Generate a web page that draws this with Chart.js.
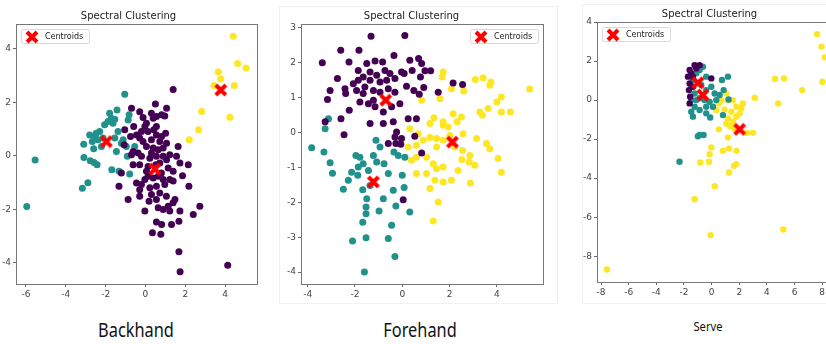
<!DOCTYPE html>
<html>
<head>
<meta charset="utf-8">
<script src="https://cdn.jsdelivr.net/npm/chart.js@4.4.1/dist/chart.umd.min.js"></script>
<style>
html,body{margin:0;padding:0;background:#fff;width:826px;height:344px;overflow:hidden;position:relative}
.panel{position:absolute;top:0;height:300px}
.sheet{position:absolute;border:1px solid #f1f1f1;background:#fff}
.cap{position:absolute;font-family:"Noto Sans",sans-serif;color:#111;transform:translateX(-50%) scaleX(0.86);white-space:nowrap;line-height:1}
</style>
</head>
<body>
<div class="sheet" style="left:279px;top:6px;width:277px;height:296px"></div>
<div class="sheet" style="left:582px;top:4px;width:260px;height:298px"></div>
<div class="panel" style="left:0;width:268px"><canvas id="c1"></canvas></div>
<div class="panel" style="left:280px;width:275px"><canvas id="c2"></canvas></div>
<div class="panel" style="left:583px;width:263px"><canvas id="c3"></canvas></div>
<div class="cap" style="left:136px;top:321px;font-size:19px">Backhand</div>
<div class="cap" style="left:420px;top:321px;font-size:19px">Forehand</div>
<div class="cap" style="left:708px;top:320px;font-size:13px">Serve</div>
<script>
// cluster colours (viridis 0 / 0.5 / 1)
const PURPLE = '#440154', TEAL = '#21918c', YELLOW = '#fde725';

// ---- Backhand ----
const backPurple = [[1.39,2.48],[0.50,1.94],[-0.70,1.78],[-0.29,1.65],[0.30,1.59],[1.06,1.78],[0.81,1.53],[0.97,1.49],
  [0.55,1.47],[0.39,1.40],[-0.12,1.43],[0.05,1.22],[-0.03,1.09],[-0.20,0.91],[-0.59,1.09],[-1.04,0.97],[-0.75,0.72],
  [-0.45,0.78],[-0.29,0.66],[-1.07,0.41],[0.42,0.97],[0.55,0.78],[0.81,0.72],[1.01,0.84],[0.30,0.60],[0.72,0.53],
  [1.06,0.47],[0.05,0.35],[0.39,0.29],[0.64,0.22],[0.89,0.29],[1.64,0.35],[-0.62,0.16],[-0.37,0.10],[-0.70,0.04],
  [-0.20,-0.02],[0.22,-0.09],[0.55,-0.02],[0.89,-0.02],[1.22,0.04],[1.56,-0.02],[-0.62,-0.34],[-0.29,-0.34],
  [0.13,-0.40],[0.52,-0.34],[0.72,-0.27],[1.14,-0.46],[1.39,-0.58],[1.73,-0.27],[2.15,-0.34],[1.86,-0.75],
  [-1.21,-0.65],[-1.33,-1.14],[-0.45,-1.02],[-0.20,-1.08],[-0.03,-0.89],[0.13,-0.77],[0.39,-0.83],[0.64,-0.77],
  [0.89,-0.89],[1.22,-0.89],[0.97,-1.08],[0.55,-1.14],[0.22,-1.20],[-0.29,-1.27],[2.18,-1.14],[-0.87,-1.64],
  [-0.29,-1.52],[0.18,-1.70],[0.55,-1.64],[0.72,-1.39],[-0.03,-2.07],[0.64,-1.95],[0.89,-2.01],[1.14,-1.89],
  [1.39,-1.76],[1.22,-2.07],[1.48,-1.64],[1.73,-2.07],[2.40,-2.20],[2.73,-1.89],[0.55,-2.48],[0.81,-2.57],
  [1.31,-2.57],[0.35,-2.88],[0.77,-2.94],[1.68,-2.45],[1.68,-3.59],[1.74,-4.34],[4.13,-4.10],[0.30,0.10],
  [1.06,-0.15],[0.05,-0.58],[0.80,-0.65],[0.30,-1.45],[1.05,-1.52],[1.39,-0.95],[-0.12,0.53],[0.13,0.91],[0.55,1.09]];
const backTeal = [[-1.04,2.30],[-1.43,1.71],[-1.71,1.40],[-1.88,1.28],[-1.54,1.37],[-2.05,1.16],[-1.80,1.59],
  [-0.82,1.53],[-0.87,1.34],[-2.30,0.91],[-2.47,0.84],[-2.55,0.72],[-2.80,0.78],[-2.38,0.60],[-2.13,0.66],
  [-2.67,0.53],[-3.10,0.43],[-2.60,0.26],[-2.21,0.35],[-1.46,0.16],[-0.96,0.35],[-1.12,0.60],[-1.21,0.47],
  [-1.54,0.66],[-0.91,-0.02],[-0.54,0.35],[-3.09,-0.07],[-2.77,-0.19],[-2.58,-0.25],[-2.43,-0.34],[-1.69,-0.52],
  [-1.33,-0.58],[-0.79,-0.68],[-2.89,-1.01],[-3.17,-1.22],[-5.54,-0.16],[-5.96,-1.90],[-1.63,1.22],[-1.38,0.91]];
const backYellow = [[4.41,4.47],[4.63,3.45],[5.05,3.28],[3.66,3.14],[3.78,2.87],[3.44,2.63],[4.46,2.63],
  [4.24,1.44],[2.82,1.66],[2.67,0.97],[2.20,0.60]];
const backCentroids = [[0.47,-0.50],[-1.96,0.53],[3.78,2.46]];

// ---- Forehand ----
const foreTeal = [[-3.83,-0.44],[-3.31,-0.56],[-3.26,0.10],[-3.12,0.39],[-3.05,-0.87],[-2.95,-1.17],[-2.49,-1.63],
  [-2.28,-1.37],[-2.14,-1.14],[-1.96,-0.66],[-1.86,-0.99],[-1.65,-0.90],[-1.43,-1.09],[-1.22,-0.66],[-1.08,-0.85],
  [-1.11,-0.23],[-0.94,-0.42],[-0.77,-0.90],[-0.59,-1.18],[-0.35,-0.56],[-0.38,-1.66],[-0.80,-1.90],[-1.36,-1.52],
  [-1.67,-1.64],[-1.50,-1.90],[-1.53,-2.14],[-1.53,-2.33],[-1.67,-2.57],[-2.10,-3.11],[-1.53,-3.02],[-0.98,-2.25],
  [-0.27,-2.11],[-0.45,-2.66],[-0.59,-3.04],[-0.31,-3.55],[-1.60,-4.00],[0.32,-2.28],[0.00,-1.23],[0.08,-1.58],
  [-0.17,-0.66],[0.11,-0.71],[-1.88,-1.23],[-1.79,-0.71]];
const forePurple = [[-1.32,2.75],[0.11,2.77],[-2.60,2.35],[-1.83,2.35],[-3.38,1.99],[-2.25,2.01],[-1.15,2.04],
  [-0.83,2.01],[-0.35,2.20],[-1.50,1.97],[0.32,2.06],[0.69,2.11],[0.82,1.97],[-0.03,1.73],[0.08,1.68],[0.42,1.77],
  [0.96,1.76],[1.20,1.76],[0.77,1.58],[-1.86,1.77],[-1.65,1.58],[-1.36,1.73],[-1.08,1.63],[-0.73,1.77],[-0.52,1.68],
  [-0.31,1.54],[-0.66,1.49],[-0.94,1.44],[-1.36,1.49],[-1.86,1.49],[-2.07,1.39],[-2.42,1.25],[-2.74,1.54],
  [-3.05,1.20],[-3.16,0.94],[-2.39,1.11],[-1.93,1.20],[-1.58,1.30],[-1.22,1.20],[-0.94,1.15],[-0.59,1.25],
  [-0.31,1.15],[0.18,1.32],[0.49,1.20],[0.72,1.09],[0.91,1.28],[1.52,1.15],[2.15,1.41],[2.55,1.37],[-2.24,0.63],
  [-2.59,0.39],[-3.26,0.30],[-1.79,0.87],[-1.43,0.82],[-1.15,0.73],[-0.80,0.58],[-0.45,0.73],[-0.10,0.82],
  [-1.36,0.25],[-0.80,0.25],[-0.38,0.30],[0.25,0.39],[0.60,0.39],[-2.46,-0.07],[-0.24,0.01],[-0.31,-0.13],
  [-0.03,-0.18],[-0.59,-0.32],[-0.27,-0.32],[-0.06,-0.34],[0.53,-0.11],[0.82,-0.59],[0.04,-1.93],[-1.22,0.92],
  [-1.65,1.11]];
const foreYellow = [[1.73,1.73],[1.69,1.58],[1.59,0.96],[2.08,1.25],[2.60,1.18],[3.09,1.51],[3.42,1.56],[3.75,1.44],
  [3.70,1.35],[4.19,1.01],[4.00,0.87],[5.39,1.24],[4.57,0.58],[4.19,0.58],[3.63,0.68],[3.28,0.58],[3.39,0.49],
  [2.50,0.44],[2.15,0.53],[2.32,0.30],[1.73,0.30],[1.73,0.20],[1.34,0.42],[1.17,0.25],[0.82,0.92],[0.32,0.10],
  [0.67,-0.04],[1.17,-0.15],[1.45,-0.42],[1.73,-0.23],[2.22,-0.42],[2.55,-0.52],[2.86,-0.66],[2.52,-0.78],
  [2.83,-0.85],[3.07,-0.94],[3.56,-0.32],[3.70,-0.47],[4.05,-0.75],[4.19,-1.14],[2.88,-1.45],[2.36,-1.09],
  [2.08,-1.37],[1.73,-1.42],[1.73,-0.99],[1.45,-1.04],[1.31,-0.90],[1.03,-0.71],[0.60,-0.71],[0.39,-0.80],
  [0.60,-1.18],[1.03,-1.18],[1.38,-1.37],[1.17,-1.61],[1.52,-1.99],[1.31,-2.54],[0.25,-0.42],[0.60,-0.37],
  [0.89,-0.23],[2.01,-0.09],[1.45,-0.18],[1.94,0.15],[2.57,-0.04],[3.14,-0.18]];
const foreCentroids = [[-0.70,0.92],[-1.22,-1.42],[2.12,-0.28]];

// ---- Serve ----
const serveYellow = [[7.63,3.38],[7.95,2.74],[8.19,2.19],[8.02,0.94],[6.55,0.51],[4.59,1.08],[5.24,1.11],
  [4.81,-0.17],[3.12,0.12],[3.00,-1.68],[2.56,-1.68],[0.53,-1.50],[1.18,-1.91],[1.26,-2.48],[0.82,-2.60],
  [1.81,-2.60],[-0.02,-2.43],[-0.14,-2.77],[-0.19,-3.16],[-0.82,-3.20],[1.62,-3.37],[1.79,-3.28],[1.26,-3.71],
  [0.22,-4.41],[-1.23,-5.08],[-0.07,-6.92],[5.19,-6.63],[-7.56,-8.68],[1.06,0.34],[1.55,0.00],[1.18,0.00],
  [1.79,-0.34],[2.15,-0.43],[2.27,-0.17],[2.03,-0.68],[1.43,-0.60],[0.94,-0.48],[1.18,-0.94],[1.55,-1.11],
  [1.79,-0.85],[1.06,-1.20],[1.35,-1.33],[1.67,-1.45],[0.34,-0.51],[0.70,0.00],[0.53,-0.17]];
const serveTeal = [[-2.32,-3.16],[-0.87,-1.79],[-0.58,-1.79],[-0.99,-1.85],[-1.35,-0.85],[-0.10,-0.89],[0.82,-0.77],
  [1.23,0.03],[0.75,1.03],[1.18,1.20],[0.87,0.51],[0.58,0.26],[0.22,0.34],[-0.39,1.20],[-0.63,1.71],[-0.87,1.54],
  [-1.11,1.37],[-1.35,1.03],[-1.47,0.68],[-1.23,0.34],[-0.87,0.09],[-0.51,0.00],[-0.14,-0.09],[0.10,-0.34],
  [-0.39,-0.34],[-0.87,-0.51],[-1.23,-0.34],[-1.47,-0.60],[-0.39,0.51],[-0.02,0.68],[0.34,0.00],[-0.75,0.77],
  [-1.11,0.00],[-1.47,0.00],[-0.39,-0.68]];
const servePurple = [[-1.23,1.79],[-1.59,1.54],[-1.71,1.20],[-1.47,1.37],[-1.11,1.62],[-0.87,1.79],[-1.59,0.85],
  [-1.64,0.51],[-1.55,0.17],[-1.59,-0.17],[-0.02,1.11],[-1.35,1.20],[-1.35,0.68]];
const serveCentroids = [[-0.99,0.89],[-0.63,0.26],[2.03,-1.50]];

// axis ranges / ticks
const backX = [-6,-4,-2,0,2,4], backY = [-4,-2,0,2,4];
const foreX = [-4,-2,0,2,4], foreY = [-4,-3,-2,-1,0,1,2,3];
const serveX = [-8,-6,-4,-2,0,2,4,6,8], serveY = [-8,-6,-4,-2,0,2,4];

const toXY = a => a.map(p => ({x:p[0], y:p[1]}));

// red filled X marker (matplotlib 'X')
const xMark = document.createElement('canvas');
xMark.width = 14; xMark.height = 14;
(function(){
  const g = xMark.getContext('2d');
  g.strokeStyle = '#ff0000'; g.lineWidth = 4; g.lineCap = 'butt';
  g.beginPath(); g.moveTo(2,2); g.lineTo(12,12); g.moveTo(12,2); g.lineTo(2,12); g.stroke();
})();

// box frame + inset legend, like matplotlib
const framePlugin = {
  id:'frameLegend',
  afterDraw(chart, args, opts){
    const {ctx, chartArea:a} = chart;
    ctx.save();
    ctx.strokeStyle = '#777'; ctx.lineWidth = 1;
    ctx.strokeRect(Math.round(a.left)+0.5, Math.round(a.top)+0.5, Math.round(a.right-a.left), Math.round(a.bottom-a.top));
    const w = 68, h = 14;
    const lx = opts.side === 'right' ? a.right - 5 - w : a.left + 5;
    const ly = a.top + 5;
    ctx.fillStyle = 'rgba(255,255,255,0.85)';
    ctx.strokeStyle = '#d8d8d8';
    ctx.beginPath(); ctx.roundRect(lx+0.5, ly+0.5, w, h, 2); ctx.fill(); ctx.stroke();
    ctx.drawImage(xMark, lx+4, ly+1);
    ctx.fillStyle = '#222'; ctx.font = '8px "DejaVu Sans"'; ctx.textBaseline = 'middle';
    ctx.fillText('Centroids', lx+24, ly+h/2+1);
    ctx.restore();
  }
};

function axis(min, max, vals, fit){
  return {
    type:'linear', min, max,
    afterBuildTicks: s => { s.ticks = vals.map(v => ({value:v})); },
    afterFit: fit,
    border:{display:false},
    grid:{drawOnChartArea:false, drawTicks:true, tickLength:3, color:'#666'},
    ticks:{color:'#444', font:{family:'DejaVu Sans', size:9}, padding:2, maxRotation:0, autoSkip:false}
  };
}

function scatter(id, sets, o){
  const R = o.r;
  return new Chart(document.getElementById(id), {
    type:'scatter',
    data:{datasets:[
      {label:'Centroids', data:toXY(sets.cent), pointStyle:xMark, pointRadius:7, order:0},
      {label:'c0', data:toXY(sets.purple), backgroundColor:PURPLE, borderWidth:0, pointRadius:R, order:1},
      {label:'c1', data:toXY(sets.teal), backgroundColor:TEAL, borderWidth:0, pointRadius:R, order:2},
      {label:'c2', data:toXY(sets.yellow), backgroundColor:YELLOW, borderWidth:0, pointRadius:R, order:3}
    ]},
    options:{
      animation:false, responsive:true, maintainAspectRatio:false, events:[],
      layout:{padding:{left:0, right:o.padR, top:0, bottom:0}},
      plugins:{
        legend:{display:false}, tooltip:{enabled:false},
        title:{display:true, text:'Spectral Clustering', color:'#222',
          font:{family:'DejaVu Sans', size:10, weight:'normal'}, padding:{top:o.tTop, bottom:o.tBot}},
        frameLegend:{side:o.side}
      },
      scales:{
        x:axis(o.x[0], o.x[1], o.xt, s => { s.height = o.xh; }),
        y:axis(o.y[0], o.y[1], o.yt, s => { s.width = o.yw; })
      }
    },
    plugins:[framePlugin]
  });
}

scatter('c1', {purple:backPurple, teal:backTeal, yellow:backYellow, cent:backCentroids},
  {r:3.5, x:[-6.5,5.6], y:[-4.8,4.93], xt:backX, yt:backY, xh:16, yw:16, padR:11, tTop:10, tBot:2, side:'left'});
scatter('c2', {purple:forePurple, teal:foreTeal, yellow:foreYellow, cent:foreCentroids},
  {r:3.5, x:[-4.28,5.95], y:[-4.34,3.1], xt:foreX, yt:foreY, xh:16, yw:21, padR:12, tTop:10, tBot:2, side:'right'});
scatter('c3', {purple:servePurple, teal:serveTeal, yellow:serveYellow, cent:serveCentroids},
  {r:3.2, x:[-8.29,9.0], y:[-9.32,4.0], xt:serveX, yt:serveY, xh:18, yw:14, padR:10, tTop:8, tBot:2, side:'left'});
</script>
</body>
</html>
